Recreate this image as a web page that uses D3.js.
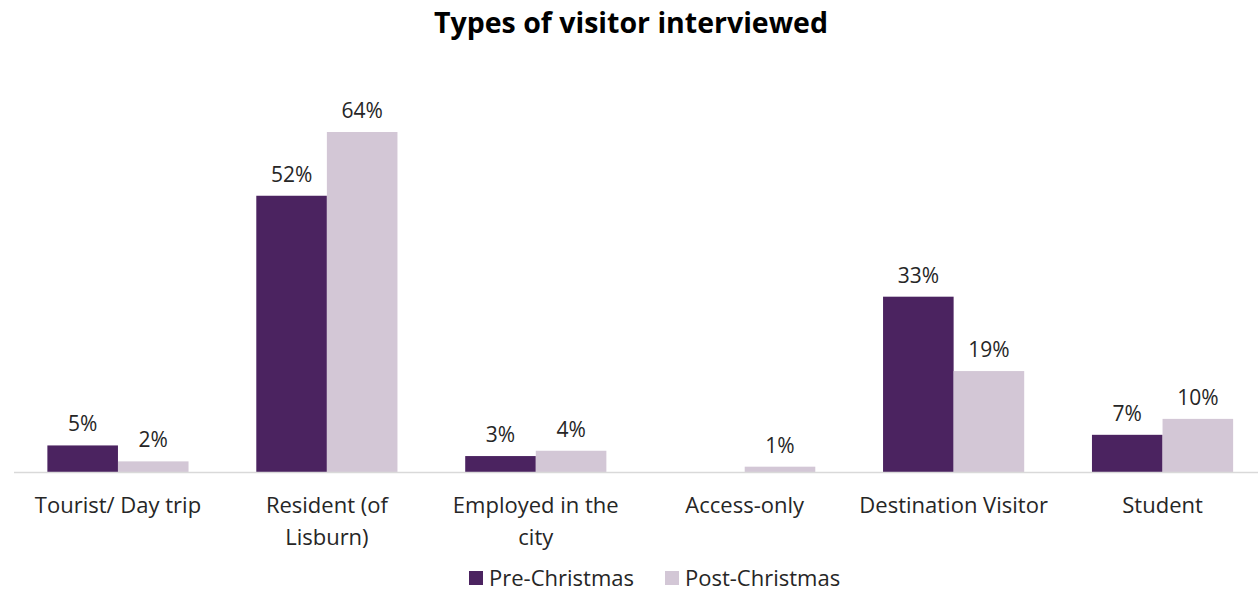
<!DOCTYPE html>
<html>
<head>
<meta charset="utf-8">
<script src="https://cdn.jsdelivr.net/npm/d3@7"></script>
<style>
  body { margin: 0; background: #fff; }
  text { font-family: "Open Sans", sans-serif; fill: #262626; }
</style>
</head>
<body>
<script>
// Categories (tick labels, pre-split as the chart wraps them)
var categories = ["Tourist/ Day trip", "Resident (of Lisburn)", "Employed in the city", "Access-only", "Destination Visitor", "Student"];
var tickLines = [["Tourist/ Day trip"], ["Resident (of", "Lisburn)"], ["Employed in the", "city"], ["Access-only"], ["Destination Visitor"], ["Student"]];

// Series
var seriesNames = ["Pre-Christmas", "Post-Christmas"];
var seriesColors = ["#4b2360", "#d3c7d6"];
var preChristmas = [5, 52, 3, 0, 33, 7];
var postChristmas = [2, 64, 4, 1, 19, 10];

var width = 1258, height = 591;
var baseY = 472;

var svg = d3.select("body").append("svg")
  .attr("width", width)
  .attr("height", height);

// Title
svg.append("text")
  .attr("x", 631)
  .attr("y", 33)
  .attr("text-anchor", "middle")
  .style("font-size", "28.5px")
  .style("font-weight", "bold")
  .style("fill", "#000")
  .text("Types of visitor interviewed");

// Scales
var x = d3.scaleBand()
  .domain(categories)
  .range([13.5, 1267])
  .paddingInner(0)
  .paddingOuter(0);

var xs = d3.scaleBand()
  .domain(seriesNames)
  .range([0, x.bandwidth()])
  .paddingInner(0)
  .paddingOuter(0.48);

var y = d3.scaleLinear()
  .domain([0, 64])
  .range([baseY, 132]);

var rows = categories.map(function(c, i){
  return [
    {cat: c, s: seriesNames[0], v: preChristmas[i], color: seriesColors[0]},
    {cat: c, s: seriesNames[1], v: postChristmas[i], color: seriesColors[1]}
  ];
});

var groups = svg.selectAll("g.cat")
  .data(rows)
  .enter().append("g")
  .attr("class", "cat")
  .attr("transform", function(d){ return "translate(" + x(d[0].cat) + ",0)"; });

groups.selectAll("rect")
  .data(function(d){ return d; })
  .enter().append("rect")
  .attr("x", function(d){ return xs(d.s); })
  .attr("y", function(d){ return y(d.v); })
  .attr("width", xs.bandwidth())
  .attr("height", function(d){ return baseY - y(d.v); })
  .attr("fill", function(d){ return d.color; });

// Value labels (zero values are not labelled)
groups.selectAll("text.val")
  .data(function(d){ return d.filter(function(e){ return e.v > 0; }); })
  .enter().append("text")
  .attr("class", "val")
  .attr("x", function(d){ return xs(d.s) + xs.bandwidth() / 2; })
  .attr("y", function(d){ return y(d.v) - 14; })
  .attr("text-anchor", "middle")
  .style("font-size", "21px")
  .text(function(d){ return d.v + "%"; });

// Axis line
svg.append("line")
  .attr("x1", 14).attr("x2", width)
  .attr("y1", baseY + 0.5).attr("y2", baseY + 0.5)
  .attr("stroke", "#d9d9d9")
  .attr("stroke-width", 1.5);

// Category labels
var xAxis = d3.axisBottom(x).tickSize(0).tickFormat("");
var ax = svg.append("g")
  .attr("transform", "translate(0," + baseY + ")")
  .call(xAxis);
ax.select(".domain").remove();

ax.selectAll(".tick").each(function(d, i){
  var t = d3.select(this).append("text")
    .attr("text-anchor", "middle")
    .style("font-size", "22px");
  tickLines[i].forEach(function(line, k){
    t.append("tspan")
      .attr("x", 0)
      .attr("y", 41 + k * 32)
      .text(line);
  });
});

// Legend
var legendX = [469, 665];
var legend = svg.selectAll("g.legend")
  .data(seriesNames)
  .enter().append("g")
  .attr("class", "legend")
  .attr("transform", function(d, i){ return "translate(" + legendX[i] + ",571)"; });

legend.append("rect")
  .attr("width", 14)
  .attr("height", 14)
  .attr("fill", function(d, i){ return seriesColors[i]; });

legend.append("text")
  .attr("x", 20)
  .attr("y", 15)
  .style("font-size", "22px")
  .text(function(d){ return d; });
</script>
</body>
</html>
